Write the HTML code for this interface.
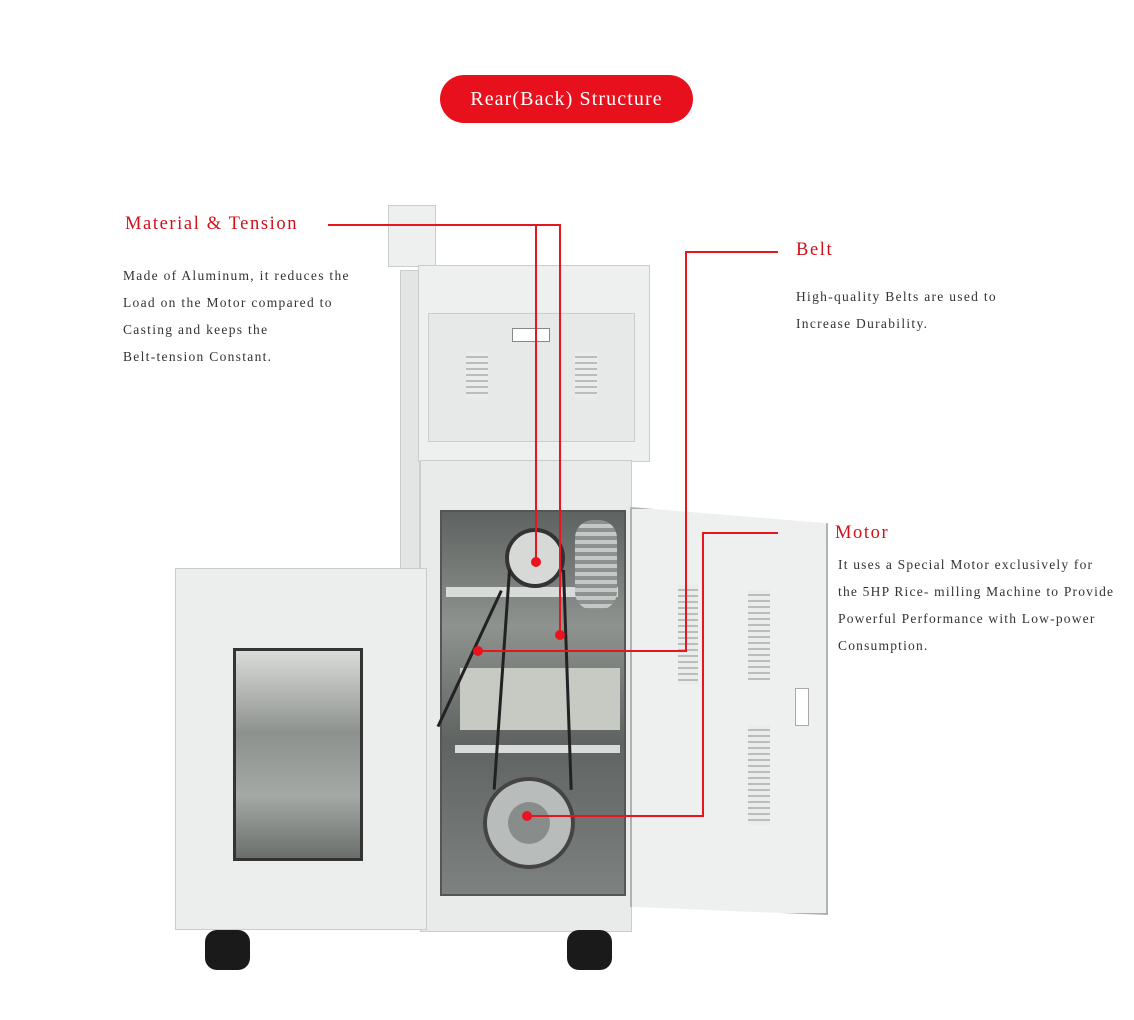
<!DOCTYPE html>
<html><head><style>
body{margin:0;width:1134px;height:1020px;background:#fff;position:relative;overflow:hidden;font-family:"Liberation Serif",serif}
div{position:absolute;box-sizing:border-box}
.t{color:#333;font-size:13.5px;line-height:27px;letter-spacing:1.3px;white-space:nowrap}
.h{color:#d2101a;font-size:18.5px;letter-spacing:1.6px}
.rl{background:#e8141e}
.dot{width:10px;height:10px;border-radius:50%;background:#e8141e}
.g{background:#e9ecea;border:1px solid #c9cdcb}
.vent{background:repeating-linear-gradient(#e9ecea 0 4px,#b9bdbb 4px 6px)}
.belt{background:#222;width:3px;transform-origin:top left}
</style></head><body>
<div style="left:440px;top:75px;width:253px;height:48px;border-radius:24px;background:#e8101c;color:#fff;font-size:20px;letter-spacing:1.1px;text-align:center;line-height:48px">Rear(Back) Structure</div>

<div class="h" style="left:125px;top:214px">Material &amp; Tension</div>
<div class="t" style="left:123px;top:262px">Made of Aluminum, it reduces the<br>Load on the Motor compared to<br>Casting and keeps the<br>Belt-tension Constant.</div>
<div class="h" style="left:796px;top:240px">Belt</div>
<div class="t" style="left:796px;top:283px">High-quality Belts are used to<br>Increase Durability.</div>
<div class="h" style="left:835px;top:523px">Motor</div>
<div class="t" style="left:838px;top:551px;letter-spacing:1.2px">It uses a Special Motor exclusively for<br>the 5HP Rice- milling Machine to Provide<br>Powerful Performance with Low-power<br>Consumption.</div>

<!-- machine -->
<div class="g" style="left:388px;top:205px;width:48px;height:62px;background:#eef0ef"></div>
<div class="g" style="left:400px;top:270px;width:20px;height:300px;background:#e2e5e4"></div>
<div class="g" style="left:418px;top:265px;width:232px;height:197px;background:#edf0ee"></div>
<div class="g" style="left:428px;top:313px;width:207px;height:129px;background:#e6e9e8"></div>
<div style="left:512px;top:328px;width:38px;height:14px;background:#fff;border:1px solid #888"></div>
<div class="vent" style="left:466px;top:352px;width:22px;height:46px"></div>
<div class="vent" style="left:575px;top:352px;width:22px;height:46px"></div>
<div class="g" style="left:420px;top:460px;width:212px;height:472px;background:#e8ebe9"></div>
<div style="left:440px;top:510px;width:186px;height:386px;background:linear-gradient(180deg,#5e6260,#8f938f 30%,#5f6361 60%,#7d817f);border:2px solid #555"></div>
<div style="left:446px;top:587px;width:172px;height:10px;background:#d8dbd9"></div>
<div style="left:460px;top:668px;width:160px;height:62px;background:#c7c9c3"></div>
<div style="left:455px;top:745px;width:165px;height:8px;background:#d8dbd9"></div>
<div style="left:505px;top:528px;width:60px;height:60px;border-radius:50%;background:#d7d9d7;border:4px solid #333"></div>
<div style="left:483px;top:777px;width:92px;height:92px;border-radius:50%;background:#b8bcba;border:4px solid #444"></div>
<div style="left:508px;top:802px;width:42px;height:42px;border-radius:50%;background:#888c8a"></div>
<div style="left:575px;top:520px;width:42px;height:90px;background:repeating-linear-gradient(#8d918f 0 4px,#c4c8c6 4px 8px);border-radius:18px"></div>
<div class="belt" style="left:508px;top:570px;height:220px;transform:rotate(4deg)"></div>
<div class="belt" style="left:562px;top:570px;height:220px;transform:rotate(-2deg)"></div>
<div class="belt" style="left:500px;top:590px;height:150px;transform:rotate(25deg)"></div>
<div class="g" style="left:175px;top:568px;width:252px;height:362px;background:#eceeed"></div>
<div style="left:233px;top:648px;width:130px;height:213px;background:linear-gradient(180deg,#d9dbd8,#8d918e 40%,#a5a9a6 70%,#6b6f6c);border:3px solid #333"></div>
<div style="left:630px;top:507px;width:198px;height:408px;background:#eef0ef;border:2px solid #aeb2b0;clip-path:polygon(0 0,100% 4%,100% 100%,0 98%)"></div>
<div class="vent" style="left:678px;top:585px;width:20px;height:100px"></div>
<div class="vent" style="left:748px;top:590px;width:22px;height:90px"></div>
<div class="vent" style="left:748px;top:725px;width:22px;height:100px"></div>
<div style="left:795px;top:688px;width:14px;height:38px;background:#fff;border:1px solid #aaa"></div>
<div style="left:205px;top:930px;width:45px;height:40px;border-radius:12px;background:#1a1a1a"></div>
<div style="left:567px;top:930px;width:45px;height:40px;border-radius:12px;background:#1a1a1a"></div>

<!-- red lines -->
<div class="rl" style="left:328px;top:224px;width:233px;height:2px"></div>
<div class="rl" style="left:535px;top:224px;width:2px;height:340px"></div>
<div class="rl" style="left:559px;top:224px;width:2px;height:412px"></div>
<div class="dot" style="left:531px;top:557px"></div>
<div class="dot" style="left:555px;top:630px"></div>
<div class="rl" style="left:686px;top:251px;width:92px;height:2px"></div>
<div class="rl" style="left:685px;top:251px;width:2px;height:401px"></div>
<div class="rl" style="left:478px;top:650px;width:209px;height:2px"></div>
<div class="dot" style="left:473px;top:646px"></div>
<div class="rl" style="left:703px;top:532px;width:75px;height:2px"></div>
<div class="rl" style="left:702px;top:532px;width:2px;height:285px"></div>
<div class="rl" style="left:527px;top:815px;width:177px;height:2px"></div>
<div class="dot" style="left:522px;top:811px"></div>
</body></html>
